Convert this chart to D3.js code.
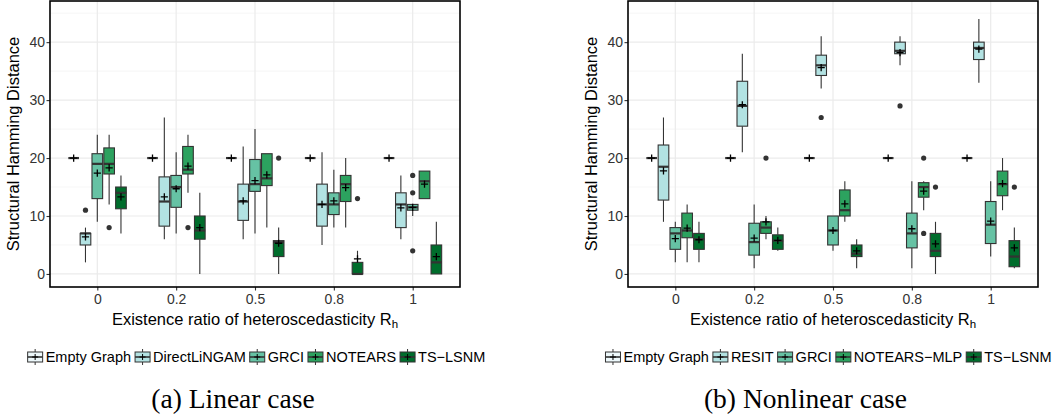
<!DOCTYPE html>
<html>
<head>
<meta charset="utf-8">
<script src="https://cdn.jsdelivr.net/npm/d3@7"></script>
<style>
  body { margin: 0; background: #fff; }
  text { font-family: "Liberation Sans", Arial, Helvetica, sans-serif; }
</style>
</head>
<body>
<div id="chart"></div>
<script>
// SHD boxplots, linear (a) and nonlinear (b)
const categories = ["0", "0.2", "0.5", "0.8", "1"];
const yTicks = [0, 10, 20, 30, 40];
const yMinor = [5, 15, 25, 35, 45];
const colors = ["#EDF8FB", "#B2E2E2", "#66C2A4", "#2CA25F", "#006D2C"];

const linearMethods = ["Empty Graph", "DirectLiNGAM", "GRCI", "NOTEARS", "TS\u2212LSNM"];
const nonlinearMethods = ["Empty Graph", "RESIT", "GRCI", "NOTEARS\u2212MLP", "TS\u2212LSNM"];

// rows: [lower whisker, q1, median, q3, upper whisker, mean, outliers]
const linEmpty = [
  [20, 20, 20, 20, 20, 20, []],
  [20, 20, 20, 20, 20, 20, []],
  [20, 20, 20, 20, 20, 20, []],
  [20, 20, 20, 20, 20, 20, []],
  [20, 20, 20, 20, 20, 20, []]
];
const linLiNGAM = [
  [2, 5, 7, 7, 8, 6.4, [11]],
  [6, 8.25, 12.5, 16.75, 27, 13.3, []],
  [6, 9.25, 12.5, 15.5, 22, 12.6, []],
  [5, 8.25, 12, 15.5, 21, 12, []],
  [6, 8, 12, 14, 17, 11.4, []]
];
const linGRCI = [
  [9, 13, 19, 20.75, 24, 17.4, []],
  [7, 11.5, 15, 17, 21, 14.7, []],
  [7, 14.25, 15.5, 19.75, 25, 16.1, []],
  [8, 10.25, 12, 14, 18, 12.6, []],
  [10, 11, 11.5, 12, 12, 11.5, [4, 14, 17]]
];
const linNOTEARS = [
  [12, 17.25, 19, 21.75, 24, 18.3, [8]],
  [14, 17.25, 18, 22, 24, 18.6, [8]],
  [8, 15.25, 16.5, 20.75, 20.75, 17.1, []],
  [8, 12.5, 15.5, 17, 20, 14.9, []],
  [13, 13, 16, 17.75, 17.75, 15.5, []]
];
const linTSLSNM = [
  [7, 11.25, 14, 15, 17, 13.3, []],
  [0, 6, 7.5, 10, 14, 8, []],
  [0, 3, 5.5, 5.75, 8, 5.3, [20]],
  [0, 0, 0, 2, 4, 2.6, [13]],
  [0, 0, 2, 5, 9, 3, []]
];

const nlEmpty = [
  [20, 20, 20, 20, 20, 20, []],
  [20, 20, 20, 20, 20, 20, []],
  [20, 20, 20, 20, 20, 20, []],
  [20, 20, 20, 20, 20, 20, []],
  [20, 20, 20, 20, 20, 20, []]
];
const nlRESIT = [
  [9, 12.75, 18.5, 22.25, 27, 17.8, []],
  [21, 25.5, 29, 33.25, 38, 29.2, []],
  [32, 34.25, 36, 37.75, 41, 35.6, [27]],
  [36, 38, 38.5, 40, 41, 38.2, [29]],
  [33, 37, 39, 40, 44, 38.8, []]
];
const nlGRCI = [
  [2, 4.25, 7, 8, 9, 6.1, []],
  [1, 3.25, 5.5, 8.75, 12, 6.2, []],
  [4, 5, 7.5, 10, 10, 7.5, []],
  [1, 4.5, 7, 10.5, 16, 7.8, []],
  [3, 5.25, 8.5, 12.5, 16, 9.1, []]
];
const nlNOTEARS = [
  [2, 6.25, 7.5, 10.5, 12, 7.9, []],
  [6, 7, 8, 9, 10, 9, [20]],
  [9, 10, 11, 14.5, 16, 12.1, []],
  [11, 13.25, 15, 15.75, 16, 14.3, [7, 20]],
  [11, 13.5, 15.5, 17.75, 20, 15.6, []]
];
const nlTSLSNM = [
  [2, 4.25, 6, 7, 9, 5.9, []],
  [4, 4.25, 5.75, 6.75, 8, 5.8, []],
  [1, 3, 3.5, 5, 6, 4, []],
  [0, 3, 4, 7, 9, 5.2, [15]],
  [1, 1.25, 3, 5.75, 8, 4.5, [15]]
];

var W = 1063, H = 418;
var plotTop = 1, plotBottom = 287, panelW = 410;

var svg = d3.select("div#chart").append("svg")
  .attr("width", W).attr("height", H)
  .style("display", "block");

var y = d3.scaleLinear().domain([-2.25, 47.1]).range([plotBottom, plotTop]);

function drawPanel(left, methods, series, opts) {
  var right = left + panelW;
  var g = svg.append("g");

  var x = d3.scalePoint().domain(categories).range([left, right]).padding(0.6);
  var dodge = d3.scaleBand().domain(methods)
    .range([-0.375 * x.step(), 0.375 * x.step()])
    .paddingInner(0.1).paddingOuter(0.05);
  var bw = dodge.bandwidth();

  // grid
  g.selectAll("line.minor").data(yMinor).enter().append("line")
    .attr("x1", left).attr("x2", right)
    .attr("y1", d => y(d)).attr("y2", d => y(d))
    .attr("stroke", "#f0f0f0").attr("stroke-width", 0.6);
  g.selectAll("line.major").data(yTicks).enter().append("line")
    .attr("x1", left).attr("x2", right)
    .attr("y1", d => y(d)).attr("y2", d => y(d))
    .attr("stroke", "#ebebeb").attr("stroke-width", 1.2);
  g.selectAll("line.vmajor").data(categories).enter().append("line")
    .attr("x1", d => x(d)).attr("x2", d => x(d))
    .attr("y1", plotTop).attr("y2", plotBottom)
    .attr("stroke", "#ebebeb").attr("stroke-width", 1.2);

  // boxes
  methods.forEach(function(m, mi) {
    var rows = series[mi];
    var bg = g.append("g");
    rows.forEach(function(r, ci) {
      var cx = x(categories[ci]) + dodge(m) + bw / 2;
      var lo = r[0], q1 = r[1], med = r[2], q3 = r[3], hi = r[4], mean = r[5];
      bg.append("line").attr("x1", cx).attr("x2", cx)
        .attr("y1", y(hi)).attr("y2", y(q3))
        .attr("stroke", "#333").attr("stroke-width", 1.1);
      bg.append("line").attr("x1", cx).attr("x2", cx)
        .attr("y1", y(q1)).attr("y2", y(lo))
        .attr("stroke", "#333").attr("stroke-width", 1.1);
      if (q3 > q1) {
        bg.append("rect")
          .attr("x", cx - bw / 2).attr("width", bw)
          .attr("y", y(q3)).attr("height", y(q1) - y(q3))
          .attr("fill", colors[mi]).attr("stroke", "#333").attr("stroke-width", 1.1);
      }
      bg.append("line")
        .attr("x1", cx - bw / 2).attr("x2", cx + bw / 2)
        .attr("y1", y(med)).attr("y2", y(med))
        .attr("stroke", "#333").attr("stroke-width", 2.2);
      bg.selectAll("circle.out").data(r[6]).enter().append("circle")
        .attr("cx", cx).attr("cy", d => y(d)).attr("r", 2.6)
        .attr("fill", "#333");
      bg.append("path")
        .attr("d", "M" + (cx - 3.6) + "," + y(mean) + "H" + (cx + 3.6) +
                   "M" + cx + "," + (y(mean) - 3.6) + "V" + (y(mean) + 3.6))
        .attr("stroke", "#000").attr("stroke-width", 1.3).attr("fill", "none");
    });
  });

  // axes
  var ay = g.append("g").attr("transform", "translate(" + left + ",0)")
    .call(d3.axisLeft(y).tickValues(yTicks).tickSize(3.5).tickPadding(1.5));
  var ax = g.append("g").attr("transform", "translate(0," + plotBottom + ")")
    .call(d3.axisBottom(x).tickSize(3.5).tickPadding(3.5));
  [ay, ax].forEach(function(a) {
    a.select(".domain").remove();
    a.selectAll(".tick line").attr("stroke", "#333").attr("stroke-width", 1.1);
    a.selectAll(".tick text").attr("fill", "#333")
      .style("font-family", "'Liberation Sans', Arial, sans-serif")
      .style("font-size", "14px");
  });

  // border
  g.append("rect").attr("x", left).attr("y", plotTop)
    .attr("width", panelW).attr("height", plotBottom - plotTop)
    .attr("fill", "none").attr("stroke", "#000").attr("stroke-width", 1.6);

  // titles
  var xt = g.append("text")
    .attr("x", (left + right) / 2).attr("y", 324.5)
    .attr("text-anchor", "middle").attr("fill", "#000")
    .style("font-size", "16.5px")
    .text("Existence ratio of heteroscedasticity R");
  xt.append("tspan").attr("dy", 3).style("font-size", "11.5px").text("h");

  g.append("text")
    .attr("transform", "translate(" + opts.yTitleX + "," + ((plotTop + plotBottom) / 2) + ") rotate(-90)")
    .attr("text-anchor", "middle").attr("fill", "#000")
    .style("font-size", "16.5px")
    .text("Structural Hamming Distance");

  // legend
  var lg = g.append("g");
  var cur = 0;
  methods.forEach(function(m, mi) {
    var k = lg.append("g").attr("transform", "translate(" + (cur + 8.5) + ",357)");
    k.append("line").attr("x1", 0).attr("x2", 0).attr("y1", -8).attr("y2", 8)
      .attr("stroke", "#333").attr("stroke-width", 1);
    k.append("rect").attr("x", -7.5).attr("y", -5).attr("width", 15).attr("height", 10)
      .attr("fill", colors[mi]).attr("stroke", "#333").attr("stroke-width", 1);
    k.append("line").attr("x1", -7.5).attr("x2", 7.5).attr("y1", 0).attr("y2", 0)
      .attr("stroke", "#333").attr("stroke-width", 1.6);
    k.append("path").attr("d", "M-3,0H3M0,-3V3")
      .attr("stroke", "#000").attr("stroke-width", 1);
    var t = lg.append("text").attr("x", cur + 19).attr("y", 362)
      .attr("fill", "#000").style("font-size", "14.5px").text(m);
    cur += 19 + t.node().getComputedTextLength() + 3;
  });
  lg.attr("transform", "translate(" + (opts.legendCenter - (cur - 3) / 2) + ",0)");

  // caption
  svg.append("text")
    .attr("x", opts.captionX).attr("y", 408)
    .attr("text-anchor", "middle").attr("fill", "#000")
    .style("font-family", "'Liberation Serif', 'Times New Roman', serif")
    .style("font-size", "27.5px")
    .text(opts.caption);
}

drawPanel(50, linearMethods,
  [linEmpty, linLiNGAM, linGRCI, linNOTEARS, linTSLSNM],
  {yTitleX: 19, legendCenter: 256, captionX: 233, caption: "(a) Linear case"});

drawPanel(628, nonlinearMethods,
  [nlEmpty, nlRESIT, nlGRCI, nlNOTEARS, nlTSLSNM],
  {yTitleX: 597, legendCenter: 828, captionX: 805.5, caption: "(b) Nonlinear case"});
</script>
</body>
</html>
